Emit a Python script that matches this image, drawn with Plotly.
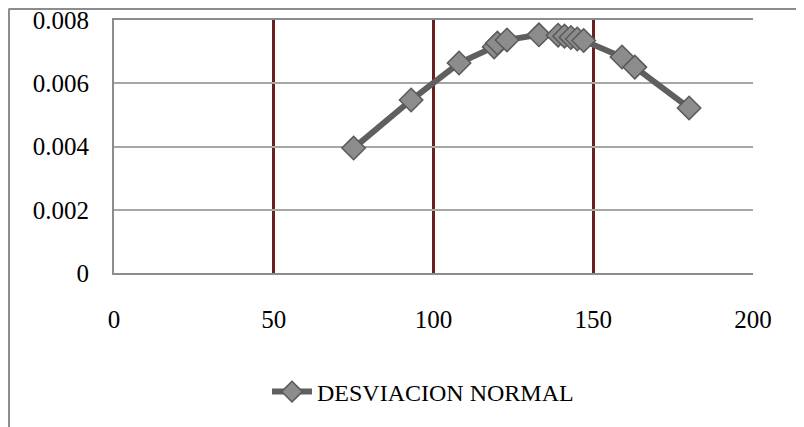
import plotly.graph_objects as go

# Data
x_vals = [75, 93, 108, 119, 120, 123, 133, 139, 141, 143, 145, 147, 159, 163, 180]
y_vals = [0.00395, 0.00547, 0.00664, 0.00715, 0.00727, 0.00737, 0.00753,
          0.00752, 0.00749, 0.00745, 0.00740, 0.00735, 0.00683, 0.00651, 0.00522]
series_name = "DESVIACION NORMAL"
x_ticks = [0, 50, 100, 150, 200]
y_ticks = [0, 0.002, 0.004, 0.006, 0.008]
y_tick_text = ["0", "0.002", "0.004", "0.006", "0.008"]

# page offset of the figure inside the browser window
OX, OY = 8, 8
W, H = 804 - OX, 427 - OY
L, T = 114 - OX, 20 - OY
R = W - (753 - OX)
B = H - (273 - OY)
pw, ph = W - L - R, H - T - B

fig = go.Figure()
fig.add_trace(go.Scatter(
    x=x_vals, y=y_vals, mode="lines+markers", name=series_name,
    line=dict(color="#5f5f5f", width=6),
    marker=dict(symbol="diamond", size=18, color="#8c8c8c",
                line=dict(color="#5a5a5a", width=1.5)),
))

font_family = "Liberation Serif"

def px_x(wx):
    return (wx - OX - L) / pw

def px_y(wy):
    return (T + ph - (wy - OY)) / ph

fig.update_layout(
    width=W, height=H,
    margin=dict(l=L, r=R, t=T, b=B, autoexpand=False),
    paper_bgcolor="white", plot_bgcolor="white",
    font=dict(family=font_family, color="black", size=24),
    showlegend=True,
    legend=dict(orientation="h", x=px_x(423), xanchor="center",
                y=px_y(392), yanchor="middle",
                font=dict(family=font_family, size=24, color="black"),
                itemwidth=40),
    xaxis=dict(range=[0, 200], tickvals=x_ticks, showgrid=True,
               gridcolor="#6b2020", gridwidth=3,
               zeroline=False, showline=True, linecolor="#8c8c8c",
               linewidth=2, mirror=True, ticks="",
               ticklabelstandoff=23, ticklabeloverflow="allow",
               tickfont=dict(family=font_family, size=25)),
    yaxis=dict(range=[0, 0.008], tickvals=y_ticks, ticktext=y_tick_text,
               showgrid=True, gridcolor="#a6a6a6", gridwidth=1.5,
               zeroline=False, showline=True, linecolor="#8c8c8c",
               linewidth=2, ticks="", ticklabelstandoff=18,
               ticklabeloverflow="allow",
               tickfont=dict(family=font_family, size=25)),
    shapes=[
        # outer chart frame (left and top edges)
        dict(type="line", xref="paper", yref="paper",
             x0=(1 - L) / pw, x1=(1 - L) / pw,
             y0=(T + ph - H - 5) / ph, y1=(T + ph - 0.5) / ph,
             line=dict(color="#8c8c8c", width=2)),
        dict(type="line", xref="paper", yref="paper",
             x0=(1 - L) / pw, x1=(W + 5 - L) / pw,
             y0=(T + ph - 1) / ph, y1=(T + ph - 1) / ph,
             line=dict(color="#8c8c8c", width=2)),
    ],
)

fig.write_html("out.html")
